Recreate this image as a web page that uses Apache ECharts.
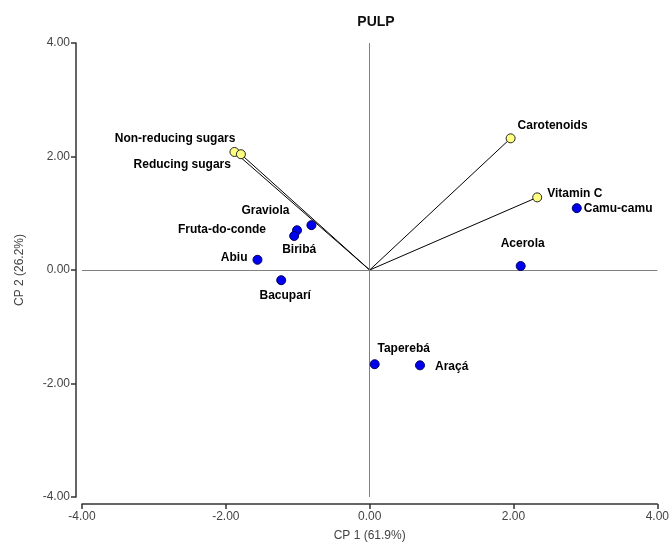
<!DOCTYPE html>
<html>
<head>
<meta charset="utf-8">
<script src="https://cdn.jsdelivr.net/npm/echarts@6/dist/echarts.min.js"></script>
<style>html,body{margin:0;padding:0;background:#fff}#c{width:672px;height:547px}</style>
</head>
<body>
<div id="c"></div>
<script>
// Samples (fruits) scores
const fruitNames = ['Camu-camu','Acerola','Graviola','Fruta-do-conde','Biribá','Abiu','Bacuparí','Taperebá','Araçá'];
const fruitX = [2.88, 2.10, -0.81, -1.01, -1.05, -1.56, -1.23, 0.07, 0.70];
const fruitY = [1.09, 0.07, 0.79, 0.70, 0.60, 0.18, -0.18, -1.66, -1.68];
// Variable loadings
const varNames = ['Non-reducing sugars','Reducing sugars','Carotenoids','Vitamin C'];
const varX = [-1.88, -1.79, 1.96, 2.33];
const varY = [2.08, 2.04, 2.32, 1.28];
// Axis ticks
const axisMin = -4, axisMax = 4, axisStep = 2;

// label placement (styling only)
const fruitLabelPos = [['right',[-3,1]],['top',[2,-6]],['left',[-12,-14]],['left',[-21,-1]],['bottom',[5,-2]],['left',[0,-2]],['bottom',[4,-1]],['top',[29,0]],['right',[5,1]]];
const varLabelPos = [['left',[11,-13]],['left',[0,10]],['right',[-3,-13]],['right',[0,-4]]];

const labelFont = {fontFamily:'Liberation Sans, Arial, sans-serif', fontWeight:'bold', fontSize:12, color:'#000'};

const series = [];
// reference lines
series.push({
  type:'line', data:[], silent:true,
  markLine:{symbol:'none', silent:true, label:{show:false},
    lineStyle:{color:'#808080', type:'solid', width:1, opacity:1},
    data:[{yAxis:0},{xAxis:0}]}
});
// vectors
varNames.forEach((n,i)=>{
  series.push({type:'line', data:[[0,0],[varX[i],varY[i]]], symbol:'none', silent:true,
    lineStyle:{color:'#000', width:1}, z:3});
});
series.push({
  type:'scatter', symbolSize:9, z:5,
  data: varNames.map((n,i)=>({name:n, value:[varX[i],varY[i]],
    label:{show:true, formatter:n, position:varLabelPos[i][0], offset:varLabelPos[i][1], ...labelFont}})),
  itemStyle:{color:'#ffff80', borderColor:'#222', borderWidth:1, opacity:1}
});
series.push({
  type:'scatter', symbolSize:9, z:5,
  data: fruitNames.map((n,i)=>({name:n, value:[fruitX[i],fruitY[i]],
    label:{show:true, formatter:n, position:fruitLabelPos[i][0], offset:fruitLabelPos[i][1], ...labelFont}})),
  itemStyle:{color:'#0000f0', borderColor:'#000060', borderWidth:1, opacity:1}
});

const axisCommon = {
  min:axisMin, max:axisMax, interval:axisStep,
  axisLine:{show:true, onZero:false, lineStyle:{color:'#333', width:1.5}},
  axisTick:{show:true, inside:false, length:5, lineStyle:{color:'#333', width:1.5}},
  axisLabel:{formatter:v=>v.toFixed(2), color:'#444', fontSize:12, fontFamily:'Liberation Sans, Arial, sans-serif'},
  splitLine:{show:false},
  nameLocation:'middle',
  nameTextStyle:{color:'#444', fontSize:12, fontFamily:'Liberation Sans, Arial, sans-serif'}
};

const chart = echarts.init(document.getElementById('c'));
chart.setOption({
  animation:false,
  title:{text:'PULP', left:371, top:10, textAlign:'center',
    textStyle:{fontFamily:'Liberation Sans, Arial, sans-serif', fontWeight:'bold', fontSize:14, color:'#111'}},
  grid:{left:82, right:13, top:43, bottom:47},
  xAxis:{type:'value', ...axisCommon, offset:7, name:'CP 1 (61.9%)', nameGap:26,
    axisLabel:{...axisCommon.axisLabel, margin:7}},
  yAxis:{type:'value', ...axisCommon, offset:6, name:'CP 2 (26.2%)', nameGap:50,
    axisLabel:{...axisCommon.axisLabel, margin:6}},
  series
});
</script>
</body>
</html>
